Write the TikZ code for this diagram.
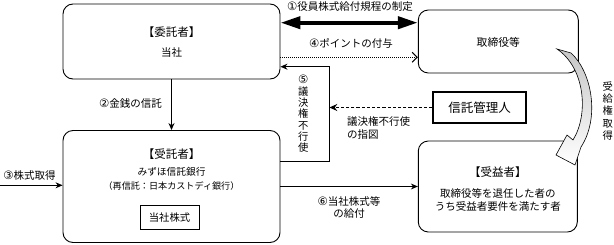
\documentclass[tikz,border=0pt]{standalone}
\usepackage{fontspec}
\setmainfont{Noto Sans CJK JP}
\newfontfamily\dvfont{DejaVu Sans}
\newcommand\cnum[1]{{\dvfont\fontsize{11.5}{12}\selectfont #1}}
\usetikzlibrary{arrows.meta}
\begin{document}
\begin{tikzpicture}[x=1pt,y=-1pt,
  rbox/.style={draw, line width=0.9pt, rounded corners=10pt, inner sep=0pt},
  sbox/.style={draw, line width=0.9pt, inner sep=0pt},
  lab/.style={inner sep=0pt, font=\fontsize{10.5}{12}\selectfont},
  ttl/.style={inner sep=0pt, font=\fontsize{11.5}{13}\selectfont},
  vlab/.style={inner sep=0pt, align=center, font=\fontsize{10.3}{11.3}\selectfont},
  conn/.style={line width=0.9pt, -{Stealth[length=7pt,width=6pt]}},
]
\useasboundingbox (0,0) rectangle (614,244);

% boxes
\node[rbox, minimum width=217pt, minimum height=75pt] (itaku) at (171.5,41.5) {};
\node[ttl] (itakuT) at (171.5,32.3) {【委託者】};
\node[lab] (itakuB) at (171.5,52.3) {当社};

\node[rbox, minimum width=160pt, minimum height=63pt] (tori) at (498.3,41.5) {};
\node[lab, font=\fontsize{10.8}{12}\selectfont] (toriT) at (498.3,42.5) {取締役等};

\node[rbox, minimum width=217pt, minimum height=112pt] (jutaku) at (171.5,186.5) {};
\node[ttl] (jutakuT) at (171.5,153.7) {【受託者】};
\node[lab, font=\fontsize{9.7}{11}\selectfont] (jutaku1) at (171.5,172) {みずほ信託銀行};
\node[lab, font=\fontsize{9.1}{10}\selectfont] (jutaku2) at (171.5,186.5) {（再信託：日本カストディ銀行）};
\node[sbox, minimum width=59pt, minimum height=24pt, font=\fontsize{10.3}{12}\selectfont] (kabu) at (169.5,217.3) {当社株式};

\node[rbox, minimum width=159pt, minimum height=91pt] (jueki) at (497.8,186.5) {};
\node[ttl] (juekiT) at (497.8,172) {【受益者】};
\node[lab] (jueki1) at (497.8,193) {取締役等を退任した者の};
\node[lab] (jueki2) at (497.8,206) {うち受益者要件を満たす者};

\node[sbox, line width=1.3pt, minimum width=93pt, minimum height=31pt, font=\fontsize{12.5}{14}\selectfont] (kanri) at (479.5,107.5) {信託管理人};

% coordinates
\coordinate (v5) at (329.3,0);
\coordinate (s3) at (0,185.3);

% (1) thick double arrow
\draw[line width=4pt, {Triangle[length=20pt,width=12pt]}-{Triangle[length=20pt,width=12pt]}]
  (itaku.east |- 0,22.7) -- (tori.west |- 0,22.7);
\node[lab] (l1) at (350,7) {\cnum{①}役員株式給付規程の制定};

% (4) dotted arrow
\draw[line width=0.9pt, dash pattern=on 0.9pt off 1.1pt, -{Straight Barb[length=5pt,width=10pt,line width=1pt]}]
  (itaku.east |- 0,57.3) -- (tori.west |- 0,57.3);
\node[lab] (l4) at (351,43.5) {\cnum{④}ポイントの付与};

% (5) voting right
\draw[conn] (jutaku.east |- 0,161) -- (v5 |- 0,161) -- (v5 |- 0,66.7) -- (itaku.east |- 0,66.7);
\node[vlab] (l5) at (303.3,114) {\cnum{⑤}\\議\\決\\権\\不\\行\\使};

% dashed instruction
\draw[line width=1.2pt, dash pattern=on 3.2pt off 2pt, -{Stealth[length=8pt,width=7pt]}]
  (kanri.west) -- (v5 |- kanri.west);
\node[inner sep=0pt, align=left, anchor=west, font=\fontsize{10.5}{12.5}\selectfont] (lk) at (347,128) {議決権不行使\\の指図};

% (2) money trust
\draw[conn] (itaku.south) -- (jutaku.north);
\node[lab] (l2) at (130.5,104) {\cnum{②}金銭の信託};

% (3) share acquisition
\draw[conn] (s3) -- (jutaku.west |- s3);
\node[lab] (l3) at (29.5,175.3) {\cnum{③}株式取得};

% (6) delivery
\draw[conn] (jutaku.east |- 0,186.5) -- (jueki.west |- 0,186.5);
\node[inner sep=0pt, align=center, font=\fontsize{10.5}{11.5}\selectfont] (l6) at (349,207.5) {\cnum{⑥}当社株式等\\の給付};

% curved hollow arrow
\shade[top color=gray!45, middle color=gray!12, bottom color=white, draw=black, line width=0.6pt]
  (557,49) -- (571,53)
  .. controls (592,72) and (600,118) .. (581,147)
  -- (575,165) -- (556,155) -- (567,135) -- (573,140)
  .. controls (589,114) and (585,68) .. cycle;
\node[vlab, font=\fontsize{10.3}{12.3}\selectfont] (lj) at (607.7,111) {受\\給\\権\\取\\得};
\end{tikzpicture}
\end{document}
